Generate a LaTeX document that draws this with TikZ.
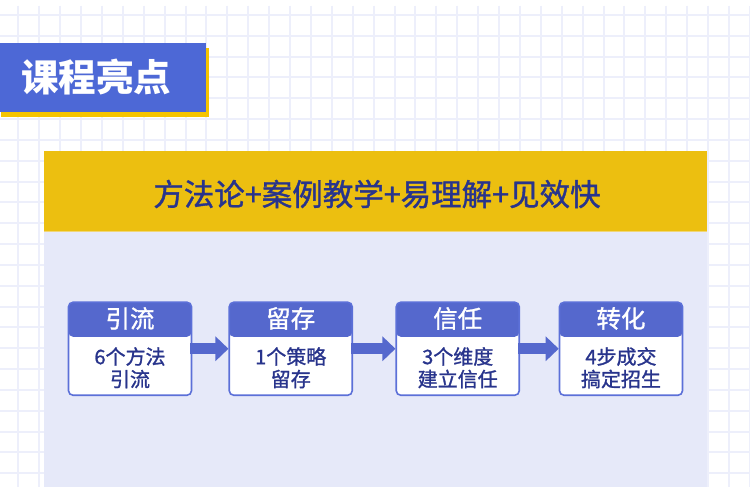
\documentclass[tikz,border=0pt]{standalone}
\usepackage{fontspec}
\setmainfont{Noto Sans CJK SC}
\newfontfamily\cjkmed[FakeBold=1.2]{Noto Sans CJK SC}
\usetikzlibrary{arrows.meta}
\definecolor{bannerblue}{RGB}{77,104,214}
\definecolor{banneryellow}{RGB}{245,196,0}
\definecolor{panelyellow}{RGB}{236,191,16}
\definecolor{panelline}{RGB}{240,214,120}
\definecolor{lavender}{RGB}{230,233,249}
\definecolor{gridcol}{RGB}{237,239,251}
\definecolor{headblue}{RGB}{85,104,205}
\definecolor{borderblue}{RGB}{92,112,216}
\definecolor{navy}{RGB}{40,52,140}
\tikzset{
  gridline/.style={draw=gridcol, line width=2pt},
  stepbox/.style={draw=borderblue, line width=1.6pt, fill=white, rounded corners=4.5pt,
    minimum width=123pt, minimum height=93pt, inner sep=0pt,
    path picture={\fill[headblue] (path picture bounding box.north west) rectangle ([yshift=-34.5pt]path picture bounding box.north east);}},
  headtext/.style={text=white, font=\fontsize{24.5}{28}\cjkmed, inner sep=0pt},
  bodytext/.style={text=navy, font=\fontsize{20}{22.5}\cjkmed, align=center, inner sep=0pt},
  flowarrow/.style={draw=headblue, line width=11pt, -{Triangle[width=24pt,length=13pt]}, shorten <=-2pt},
}
\begin{document}
\begin{tikzpicture}[x=1pt,y=-1pt]
\useasboundingbox (0,0) rectangle (750,487);
\fill[white] (0,0) rectangle (750,487);
% grid
\foreach \i in {0,...,35} \draw[gridline] ({18.3+20.9*\i},6) -- ({18.3+20.9*\i},487);
\foreach \j in {0,...,22} \draw[gridline] (0,{15+20.83*\j}) -- (750,{15+20.83*\j});
% banner
\fill[banneryellow] (1,48) rectangle (209,117);
\fill[bannerblue] (0,43) rectangle (206,112);
\node[text=white, font=\fontsize{37.5}{40}\selectfont\bfseries, inner sep=0pt] (banner) at (96,77.5) {课程亮点};
% main panel
\fill[lavender] (44,232) rectangle (707,487);
\fill[panelyellow] (44,151) rectangle (707,232);
\draw[panelline, line width=1pt] (44,231.5) -- (707,231.5);
\node[text=navy, font=\fontsize{30.5}{34}\cjkmed, inner sep=0pt] (title) at (377,194) {方法论+案例教学+易理解+见效快};
% boxes
\node[stepbox] (b1) at (130,348.75) {};
\node[stepbox] (b2) at (290.75,348.75) {};
\node[stepbox] (b3) at (457.75,348.75) {};
\node[stepbox] (b4) at (621,348.75) {};
\foreach \b/\h/\t in {b1/引流/{6个方法\\引流}, b2/留存/{1个策略\\留存}, b3/信任/{3个维度\\建立信任}, b4/转化/{4步成交\\搞定招生}} {
  \node[headtext] (\b h) at ([yshift=-17pt]\b.north) {\h};
  \node[bodytext] (\b t) at ([yshift=-19pt]\b.center) {\t};
}
% arrows
\draw[flowarrow] (b1.east) -- (b2.west);
\draw[flowarrow] (b2.east) -- (b3.west);
\draw[flowarrow] (b3.east) -- (b4.west);
\end{tikzpicture}
\end{document}
